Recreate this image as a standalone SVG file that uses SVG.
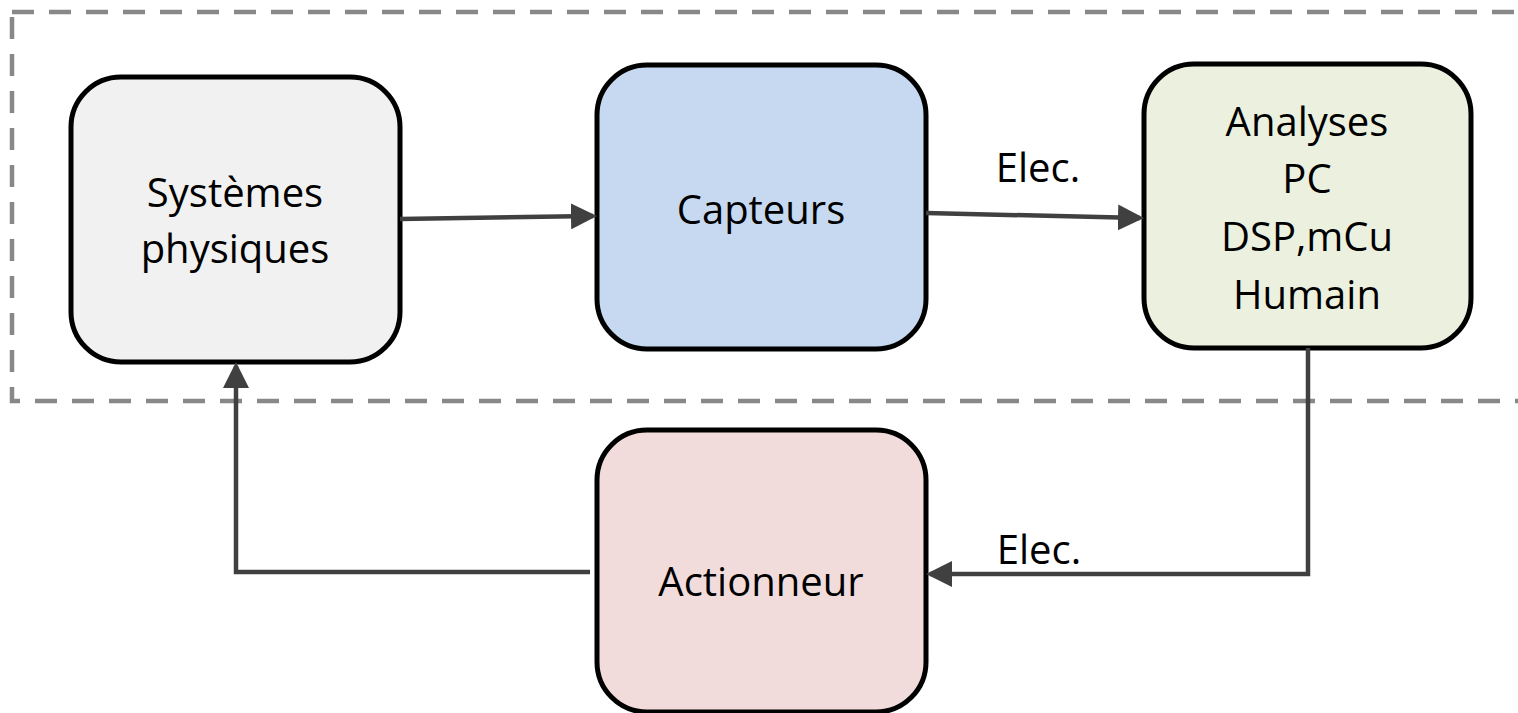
<svg xmlns="http://www.w3.org/2000/svg" width="1518" height="713" viewBox="0 0 1518 713">
<style>
.node{stroke:#000;stroke-width:5}
.t{font-family:"Open Sans",Lato,"Liberation Sans",sans-serif;font-size:40px;fill:#000;text-anchor:middle}
.c{fill:none;stroke:#404040;stroke-width:4.5}
</style>
<defs>
<marker id="ah" viewBox="0 0 26 26" markerWidth="26" markerHeight="26" refX="22" refY="13" orient="auto" markerUnits="userSpaceOnUse">
<path d="M0,0 L26,13 L0,26 Z" fill="#404040"/>
</marker>
</defs>
<rect x="12" y="12" width="1530" height="389" fill="none" stroke="#888" stroke-width="4.5" stroke-dasharray="22,15"/>
<g id="systemes">
<rect class="node" x="71" y="77" width="329" height="285" rx="50" fill="#f1f1f1"/>
<text class="t" x="235" y="207">Systèmes</text>
<text class="t" x="235" y="263">physiques</text>
</g>
<g id="capteurs">
<rect class="node" x="597" y="65" width="329" height="284" rx="50" fill="#c6d9f0"/>
<text class="t" x="761" y="224">Capteurs</text>
</g>
<g id="analyses">
<rect class="node" x="1144" y="64" width="327" height="284" rx="50" fill="#ebf1de"/>
<text class="t" x="1307" y="136">Analyses</text>
<text class="t" x="1307" y="193">PC</text>
<text class="t" x="1307" y="251">DSP,mCu</text>
<text class="t" x="1307" y="309">Humain</text>
</g>
<g id="actionneur">
<rect class="node" x="597" y="430" width="329" height="282" rx="50" fill="#f2dcdb"/>
<text class="t" x="761" y="596">Actionneur</text>
</g>
<g id="connectors">
<line class="c" x1="400" y1="219" x2="593" y2="216" marker-end="url(#ah)"/>
<line class="c" x1="926" y1="213" x2="1140" y2="218" marker-end="url(#ah)"/>
<text class="t" x="1038" y="182">Elec.</text>
<polyline class="c" points="1308,348 1308,574 930,574" marker-end="url(#ah)"/>
<text class="t" x="1039" y="564">Elec.</text>
<polyline class="c" points="590,572 236,572 236,366" marker-end="url(#ah)"/>
</g>
</svg>
